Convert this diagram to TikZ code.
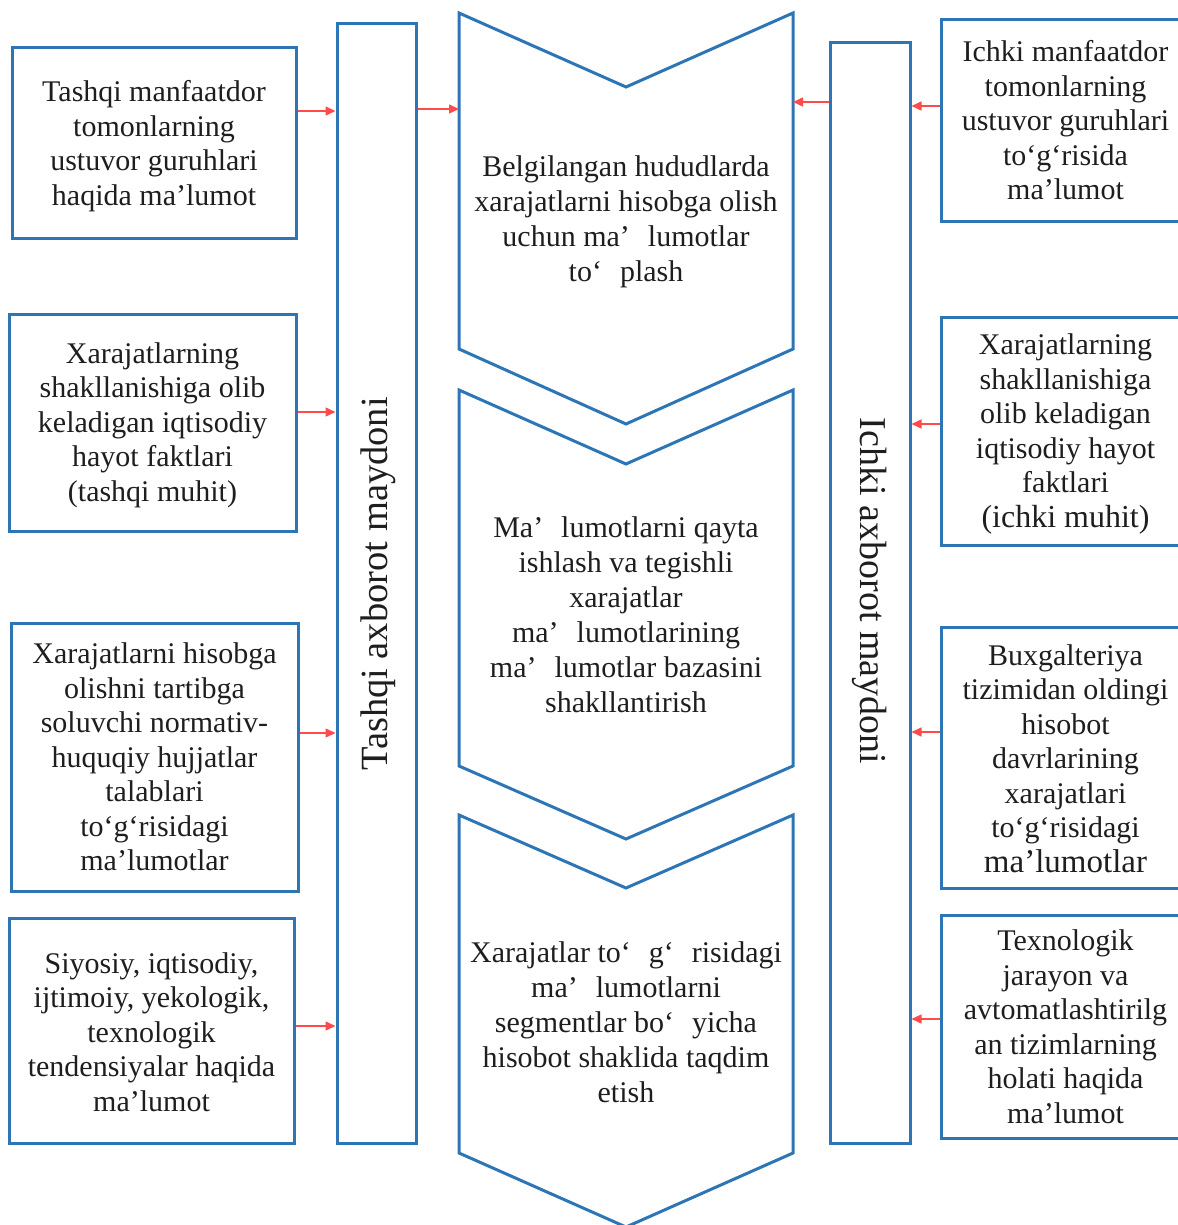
\documentclass[tikz,border=0pt]{standalone}
\usepackage{fontspec}
\setmainfont{Liberation Serif}
\usetikzlibrary{arrows.meta}
\definecolor{boxblue}{RGB}{46,117,182}
\definecolor{arrred}{RGB}{255,75,75}
\definecolor{ink}{RGB}{30,30,30}
\newcommand{\gap}{\hspace{0.6em}}
\begin{document}
\begin{tikzpicture}[x=1pt,y=-1pt,
  frame/.style={draw=boxblue,line width=3pt,rectangle,inner sep=0pt},
  txt/.style={align=center,text=ink,font=\fontsize{30}{34.5}\selectfont,inner sep=0pt},
  arr/.style={draw=arrred,line width=1.5pt,-{Triangle[length=10pt,width=9pt]}},
  chev/.style={draw=boxblue,line width=3pt,line join=miter}]
\useasboundingbox (0,0) rectangle (1177,1225);

% vertical information fields
\node[frame,minimum width=79pt,minimum height=1119pt] (lbar) at (376.5,583.5) {};
\node[frame,minimum width=80pt,minimum height=1100pt] (rbar) at (870,593) {};
\node[txt,font=\fontsize{38.5}{40}\selectfont,rotate=90] (lbart) at (378,584) {Tashqi axborot maydoni};
\node[txt,font=\fontsize{38}{40}\selectfont,rotate=-90] (rbart) at (870,591) {Ichki axborot maydoni};

% external sources
\node[frame,minimum width=284pt,minimum height=190pt] (lb1) at (154,143) {};
\node[frame,minimum width=287pt,minimum height=217pt] (lb2) at (152.5,422.5) {};
\node[frame,minimum width=287pt,minimum height=268pt] (lb3) at (154.5,757) {};
\node[frame,minimum width=285pt,minimum height=225pt] (lb4) at (151.5,1030.5) {};
\node[txt] (lb1t) at ([yshift=-3pt]lb1.center)
  {Tashqi manfaatdor\\tomonlarning\\ustuvor guruhlari\\haqida ma’lumot};
\node[txt] (lb2t) at ([yshift=-2.5pt]lb2.center)
  {Xarajatlarning\\shakllanishiga olib\\keladigan iqtisodiy\\hayot faktlari\\(tashqi muhit)};
\node[txt] (lb3t) at (lb3.center)
  {Xarajatlarni hisobga\\olishni tartibga\\soluvchi normativ-\\huquqiy hujjatlar\\talablari\\to‘g‘risidagi\\ma’lumotlar};
\node[txt] (lb4t) at ([yshift=-1.5pt]lb4.center)
  {Siyosiy, iqtisodiy,\\ijtimoiy, yekologik,\\texnologik\\tendensiyalar haqida\\ma’lumot};

% internal sources
\node[frame,minimum width=249pt,minimum height=201pt] (rb1) at (1065.5,120.5) {};
\node[frame,minimum width=249pt,minimum height=228pt] (rb2) at (1065.5,431) {};
\node[frame,minimum width=249pt,minimum height=261pt] (rb3) at (1065.5,757.5) {};
\node[frame,minimum width=249pt,minimum height=223pt] (rb4) at (1065.5,1026.5) {};
\node[txt] (rb1t) at (rb1.center)
  {Ichki manfaatdor\\tomonlarning\\ustuvor guruhlari\\to‘g‘risida\\ma’lumot};
\node[txt] (rb2t) at ([yshift=-3pt]rb2.center)
  {Xarajatlarning\\shakllanishiga\\olib keladigan\\iqtisodiy hayot\\faktlari\\{\fontsize{32}{34.5}\selectfont(ichki muhit)}};
\node[txt] (rb3t) at ([yshift=-1pt]rb3.center)
  {Buxgalteriya\\tizimidan oldingi\\hisobot\\davrlarining\\xarajatlari\\to‘g‘risidagi\\{\fontsize{33}{34.5}\selectfont ma’lumotlar}};
\node[txt] (rb4t) at (rb4.center)
  {Texnologik\\jarayon va\\avtomatlashtirilg\\an tizimlarning\\holati haqida\\ma’lumot};

% process chevrons
\draw[chev] (459,13) -- (626,87) -- (793,13) -- (793,349) -- (626,424) -- (459,349) -- cycle;
\draw[chev] (459,390) -- (626,464) -- (793,390) -- (793,766) -- (626,839) -- (459,766) -- cycle;
\draw[chev] (459,815) -- (626,888) -- (793,815) -- (793,1153) -- (626,1227) -- (459,1153) -- cycle;

\node[txt,font=\fontsize{30}{35}\selectfont] (c1) at (626,222)
  {Belgilangan hududlarda\\xarajatlarni hisobga olish\\uchun ma’\gap lumotlar\\to‘\gap plash};
\node[txt,font=\fontsize{30}{35}\selectfont] (c2) at (626,615)
  {Ma’\gap lumotlarni qayta\\ishlash va tegishli\\xarajatlar\\ma’\gap lumotlarining\\ma’\gap lumotlar bazasini\\shakllantirish};
\node[txt,font=\fontsize{30}{35}\selectfont] (c3) at (626,1022)
  {Xarajatlar to‘\gap g‘\gap risidagi\\ma’\gap lumotlarni\\segmentlar bo‘\gap yicha\\hisobot shaklida taqdim\\etish};

% arrow levels
\coordinate (yl1) at (0,111);
\coordinate (yl2) at (0,412);
\coordinate (yl3) at (0,733);
\coordinate (yl4) at (0,1026);
\coordinate (yr1) at (0,106);
\coordinate (yr2) at (0,424);
\coordinate (yr3) at (0,732);
\coordinate (yr4) at (0,1019);
\coordinate (c1in) at (459,109);
\coordinate (c1inr) at (793,102);

\draw[arr] (lb1.east |- yl1) -- (lbar.west |- yl1);
\draw[arr] (lb2.east |- yl2) -- (lbar.west |- yl2);
\draw[arr] (lb3.east |- yl3) -- (lbar.west |- yl3);
\draw[arr] (lb4.east |- yl4) -- (lbar.west |- yl4);
\draw[arr] (rb1.west |- yr1) -- (rbar.east |- yr1);
\draw[arr] (rb2.west |- yr2) -- (rbar.east |- yr2);
\draw[arr] (rb3.west |- yr3) -- (rbar.east |- yr3);
\draw[arr] (rb4.west |- yr4) -- (rbar.east |- yr4);
\draw[arr] (lbar.east |- c1in) -- (c1in);
\draw[arr] (rbar.west |- c1inr) -- (c1inr);
\end{tikzpicture}
\end{document}
